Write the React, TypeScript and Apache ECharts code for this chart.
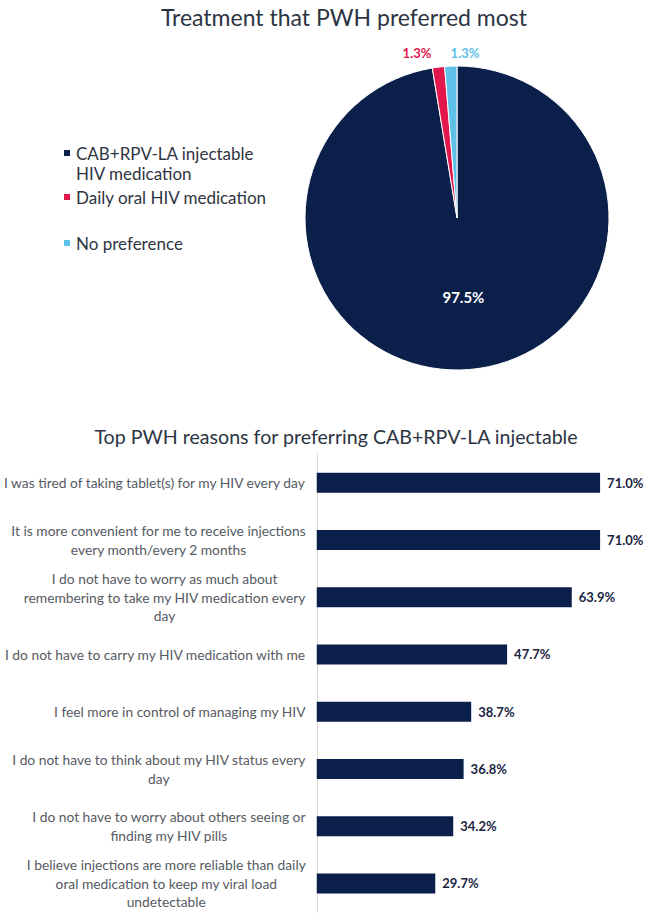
import React, { useEffect, useRef } from "react";
import * as echarts from "echarts";

const pieTitle = "Treatment that PWH preferred most";
const barTitle = "Top PWH reasons for preferring CAB+RPV-LA injectable";

const pieNames = [
  "CAB+RPV-LA injectable\nHIV medication",
  "Daily oral HIV medication",
  "No preference",
];
const pieValues = [97.5, 1.3, 1.3];
const pieColors = ["#0b1f4b", "#e2174c", "#5ec1e8"];

const reasons = [
  "I was tired of taking tablet(s) for my HIV every day",
  "It is more convenient for me to receive injections\nevery month/every 2 months",
  "I do not have to worry as much about\nremembering to take my HIV medication every\nday",
  "I do not have to carry my HIV medication with me",
  "I feel more in control of managing my HIV",
  "I do not have to think about my HIV status every\nday",
  "I do not have to worry about others seeing or\nfinding my HIV pills",
  "I believe injections are more reliable than daily\noral medication to keep my viral load\nundetectable",
];
const reasonValues = [71.0, 71.0, 63.9, 47.7, 38.7, 36.8, 34.2, 29.7];

const FONT = "Lato, 'Open Sans', sans-serif";
const PIE_CX = 457;
const PIE_CY = 218;
const PIE_R = 152;

export default function App() {
  const ref = useRef<HTMLDivElement>(null);

  useEffect(() => {
    if (!ref.current) return;
    const chart = echarts.init(ref.current, null, { renderer: "svg" });
    const legendTops = [137, 182, 228];
    const twoLineIcon =
      "path://M0,0L0.01,0L0,0Z M0,6L8,6L8,14L0,14Z M0,40L0.01,40L0,40Z";
    const smallLabelPos: Record<number, number[]> = {
      1: [PIE_CX - 40, PIE_CY - PIE_R - 13],
      2: [PIE_CX + 8, PIE_CY - PIE_R - 13],
    };
    chart.setOption({
      animation: false,
      backgroundColor: "#ffffff",
      graphic: [
        {
          type: "text",
          x: 344,
          y: 17,
          style: {
            text: pieTitle,
            fill: "#2c3444",
            font: `400 23px ${FONT}`,
            textAlign: "center",
            textVerticalAlign: "middle",
          },
        },
        {
          type: "text",
          x: 336,
          y: 436,
          style: {
            text: barTitle,
            fill: "#2c3444",
            font: `400 19.6px ${FONT}`,
            textAlign: "center",
            textVerticalAlign: "middle",
          },
        },
      ],
      legend: pieNames.map((n, i) => ({
        data: [n],
        orient: "vertical",
        left: 57,
        top: legendTops[i],
        itemWidth: 8,
        itemHeight: i === 0 ? 40 : 8,
        icon: i === 0 ? twoLineIcon : "rect",
        selectedMode: false,
        textStyle: {
          color: "#2f3542",
          fontSize: 17,
          fontFamily: FONT,
          lineHeight: 20,
        },
      })),
      grid: { left: 314, top: 454, width: 322, height: 458 },
      xAxis: {
        type: "value",
        min: 0,
        max: 80,
        show: false,
        splitLine: { show: false },
      },
      yAxis: {
        type: "category",
        inverse: true,
        data: reasons,
        axisLine: { show: true, lineStyle: { color: "#d9d9d9", width: 1 } },
        axisTick: { show: false },
        axisLabel: {
          margin: 11,
          formatter: (v: string) =>
            v
              .split("\n")
              .map((l) => `{a|${l}}`)
              .join("\n"),
          rich: {
            a: {
              align: "center",
              fontSize: 13.8,
              lineHeight: 18.5,
              color: "#555a63",
              fontFamily: FONT,
            },
          },
        },
      },
      series: [
        {
          type: "pie",
          center: [PIE_CX, PIE_CY],
          radius: PIE_R,
          startAngle: 90,
          clockwise: true,
          data: pieNames.map((n, i) => ({
            name: n,
            value: pieValues[i],
            itemStyle: { color: pieColors[i] },
            label:
              i === 0
                ? {
                    position: "inside",
                    color: "#ffffff",
                    fontSize: 15,
                    fontWeight: "bold",
                  }
                : {
                    position: "outside",
                    color: pieColors[i],
                    fontSize: 13,
                    fontWeight: "bold",
                  },
            labelLine: { show: false },
          })),
          itemStyle: { borderColor: "#ffffff", borderWidth: 1 },
          label: {
            show: true,
            fontFamily: FONT,
            formatter: (p: any) => `${Number(p.value).toFixed(1)}%`,
          },
          labelLine: { show: false },
          labelLayout: (p: any) => {
            const pos = smallLabelPos[p.dataIndex];
            if (!pos) return {};
            return { x: pos[0], y: pos[1], align: "center", verticalAlign: "middle" };
          },
          emphasis: { disabled: true },
        },
        {
          type: "bar",
          data: reasonValues,
          barWidth: 20,
          itemStyle: { color: "#0b1f4b" },
          label: {
            show: true,
            position: "right",
            distance: 7,
            formatter: (p: any) => `${Number(p.value).toFixed(1)}%`,
            color: "#1a2542",
            fontSize: 13,
            fontWeight: "bold",
            fontFamily: FONT,
          },
          emphasis: { disabled: true },
        },
      ],
    });
    return () => chart.dispose();
  }, []);

  return (
    <div
      ref={ref}
      style={{ position: "absolute", left: 0, top: 0, width: 647, height: 914 }}
    />
  );
}
